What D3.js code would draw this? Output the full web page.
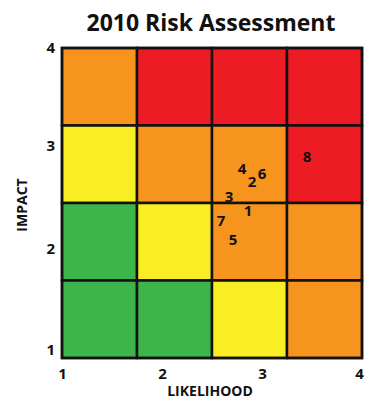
<!DOCTYPE html>
<html>
<head>
<meta charset="utf-8">
<script src="https://cdn.jsdelivr.net/npm/d3@7"></script>
<style>
  html, body { margin: 0; padding: 0; background: #fff; }
  svg text { font-family: "Open Sans", "DejaVu Sans", sans-serif; font-weight: 700; fill: #111; }
</style>
</head>
<body>
<svg id="chart" width="365" height="400"></svg>
<script>
// Risk matrix: cell colour classes, listed from the top row down
const rowLevels = [
  ["med", "high", "high", "high"],
  ["low", "med", "med", "high"],
  ["min", "low", "med", "med"],
  ["min", "min", "low", "med"]
];
const levelColors = { min: "#3db54a", low: "#f9ed23", med: "#f7941e", high: "#ed1c24" };

// Numbered risks placed by likelihood and impact
const riskIds = [1, 2, 3, 4, 5, 6, 7, 8];
const likelihood = [2.86, 2.90, 2.67, 2.80, 2.71, 3.00, 2.59, 3.45];
const impact     = [2.43, 2.71, 2.56, 2.83, 2.15, 2.78, 2.33, 2.95];

const tickValues = [1, 2, 3, 4];

const svg = d3.select("#chart");
const plotLeft = 62, plotRight = 362, plotTop = 48, plotBottom = 358;

const x = d3.scaleLinear().domain([1, 4]).range([plotLeft, plotRight]);
const y = d3.scaleLinear().domain([1, 4]).range([plotBottom, plotTop]);

// Cells split the axis range into four equal bands
const cellW = (4 - 1) / 4;
const cells = [];
rowLevels.forEach((row, r) => row.forEach((lvl, c) => {
  cells.push({ x0: 1 + c * cellW, x1: 1 + (c + 1) * cellW,
               y1: 4 - r * cellW, y0: 4 - (r + 1) * cellW, lvl });
}));

svg.append("g").selectAll("rect").data(cells).join("rect")
  .attr("x", d => x(d.x0))
  .attr("y", d => y(d.y1))
  .attr("width", d => x(d.x1) - x(d.x0))
  .attr("height", d => y(d.y0) - y(d.y1))
  .attr("fill", d => levelColors[d.lvl])
  .attr("stroke", "#111")
  .attr("stroke-width", 2.5);

svg.append("rect")
  .attr("x", plotLeft).attr("y", plotTop)
  .attr("width", plotRight - plotLeft).attr("height", plotBottom - plotTop)
  .attr("fill", "none").attr("stroke", "#111").attr("stroke-width", 2.5);

// Title
svg.append("text")
  .attr("x", 211).attr("y", 31)
  .attr("text-anchor", "middle")
  .style("font-size", "23px")
  .text("2010 Risk Assessment");

// X axis tick labels
const xAxis = d3.axisBottom(x).tickValues(tickValues).tickSize(0).tickPadding(0).tickFormat(d3.format("d"));
const gx = svg.append("g").attr("transform", `translate(0,${plotBottom})`).call(xAxis);
gx.select(".domain").remove();
gx.selectAll("text").attr("y", 21).attr("dy", 0).style("font-size", "15px").style("font-family", null);
gx.selectAll(".tick").filter(d => d === 4).select("text").attr("x", -3);

// Y axis tick labels
const yAxis = d3.axisLeft(y).tickValues(tickValues).tickSize(0).tickPadding(0).tickFormat(d3.format("d"));
const gy = svg.append("g").attr("transform", `translate(${plotLeft},0)`).call(yAxis);
gy.select(".domain").remove();
gy.selectAll("text").attr("x", -7).attr("dy", "-0.05em").style("font-size", "15px").style("font-family", null);
gy.selectAll(".tick").filter(d => d === 1).select("text").attr("dy", "-0.25em");
gy.selectAll(".tick").filter(d => d === 4).select("text").attr("dy", "0.3em");

// Axis titles
svg.append("text")
  .attr("x", 210).attr("y", 396)
  .attr("text-anchor", "middle")
  .style("font-size", "14px")
  .text("LIKELIHOOD");

svg.append("text")
  .attr("transform", "translate(27,205) rotate(-90)")
  .attr("text-anchor", "middle")
  .style("font-size", "14px")
  .text("IMPACT");

// Risk labels
svg.append("g").selectAll("text").data(riskIds).join("text")
  .attr("x", (d, i) => x(likelihood[i]))
  .attr("y", (d, i) => y(impact[i]))
  .attr("text-anchor", "middle")
  .attr("dy", "0.36em")
  .style("font-size", "15px")
  .text(d => d);
</script>
</body>
</html>
